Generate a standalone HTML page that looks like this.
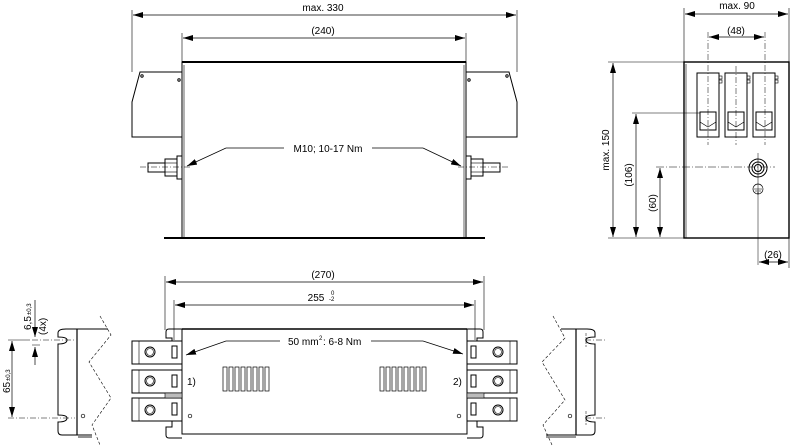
<!DOCTYPE html>
<html><head><meta charset="utf-8"><style>
html,body{margin:0;padding:0;background:#fff}
svg{display:block}
text{font-family:"Liberation Sans",sans-serif;font-size:10px;fill:#000}
</style></head><body>
<svg width="790" height="447" viewBox="0 0 790 447" xmlns="http://www.w3.org/2000/svg">
<defs>
<marker id="a" viewBox="0 0 10 6" refX="10" refY="3" markerWidth="10" markerHeight="6" orient="auto-start-reverse" markerUnits="userSpaceOnUse"><path d="M0,0 L10,3 L0,6z" fill="#000"/></marker>
</defs>
<g stroke="#000" fill="none" stroke-width="1">
<line x1="132" y1="10" x2="132" y2="72" stroke-width="0.6"/>
<line x1="517" y1="10" x2="517" y2="72" stroke-width="0.6"/>
<line x1="133" y1="15" x2="516" y2="15" marker-start="url(#a)" marker-end="url(#a)" stroke-width="0.7"/>
<line x1="182" y1="33" x2="182" y2="62" stroke-width="0.6"/>
<line x1="466" y1="33" x2="466" y2="62" stroke-width="0.6"/>
<line x1="183" y1="38" x2="465" y2="38" marker-start="url(#a)" marker-end="url(#a)" stroke-width="0.7"/>
<rect x="182" y="62" width="284" height="176"/>
<line x1="182" y1="62" x2="466" y2="62" stroke-width="2"/>
<line x1="184" y1="65" x2="184" y2="238" stroke-width="0.6"/>
<line x1="464" y1="65" x2="464" y2="238" stroke-width="0.6"/>
<line x1="164" y1="238" x2="485" y2="238" stroke-width="2"/>
<path d="M182,72 H140 L132,102 V137 H182"/>
<path d="M466,72 H509 L517,102 V137 H466"/>
<circle cx="142" cy="76" r="1.2"/><circle cx="179" cy="80" r="1.2"/>
<circle cx="469" cy="80" r="1.2"/><circle cx="507" cy="76" r="1.2"/>
<rect x="148" y="163" width="17" height="9"/><rect x="165" y="159" width="12" height="17"/><rect x="177" y="156" width="5" height="23"/>
<line x1="165" y1="163" x2="177" y2="163" stroke-width="0.6"/><line x1="165" y1="172" x2="177" y2="172" stroke-width="0.6"/>
<rect x="483" y="163" width="17" height="9"/><rect x="471" y="159" width="12" height="17"/><rect x="466" y="156" width="5" height="23"/>
<line x1="471" y1="163" x2="483" y2="163" stroke-width="0.6"/><line x1="471" y1="172" x2="483" y2="172" stroke-width="0.6"/>
<line x1="140" y1="167" x2="190" y2="167" stroke-width="0.5" stroke-dasharray="6,2,1,2"/>
<line x1="458" y1="167" x2="508" y2="167" stroke-width="0.5" stroke-dasharray="6,2,1,2"/>
<path d="M226,148 H284" stroke-width="0.7"/><path d="M226,148 L187,166" stroke-width="0.7" marker-end="url(#a)"/>
<path d="M372,148 H423" stroke-width="0.7"/><path d="M423,148 L461,166" stroke-width="0.7" marker-end="url(#a)"/>

<line x1="684" y1="8" x2="684" y2="62" stroke-width="0.6"/>
<line x1="789" y1="8" x2="789" y2="62" stroke-width="0.6"/>
<line x1="685" y1="14" x2="788" y2="14" marker-start="url(#a)" marker-end="url(#a)" stroke-width="0.7"/>
<line x1="708" y1="32" x2="708" y2="145" stroke-width="0.5" stroke-dasharray="6,2,1,2"/>
<line x1="736" y1="66" x2="736" y2="145" stroke-width="0.5" stroke-dasharray="6,2,1,2"/>
<line x1="765" y1="32" x2="765" y2="145" stroke-width="0.5" stroke-dasharray="6,2,1,2"/>
<line x1="709" y1="37" x2="764" y2="37" marker-start="url(#a)" marker-end="url(#a)" stroke-width="0.7"/>
<rect x="684" y="62" width="105" height="176" stroke-width="1.4"/>
<line x1="686" y1="64" x2="686" y2="238" stroke-width="0.6"/>
<g>
<rect x="697" y="73" width="22" height="64"/><rect x="700" y="112" width="16" height="18"/><path d="M700,122 L708,127 L716,122" stroke-width="0.7"/>
<rect x="725" y="73" width="22" height="64"/><rect x="728" y="112" width="16" height="18"/><path d="M728,122 L736,127 L744,122" stroke-width="0.7"/>
<rect x="753" y="73" width="22" height="64"/><rect x="756" y="112" width="16" height="18"/><path d="M756,122 L764,127 L772,122" stroke-width="0.7"/>
<rect x="719" y="76" width="3" height="3" stroke-width="0.6"/><rect x="719" y="80" width="3" height="3" stroke-width="0.6"/>
<rect x="747" y="76" width="3" height="3" stroke-width="0.6"/><rect x="747" y="80" width="3" height="3" stroke-width="0.6"/>
<rect x="775" y="76" width="3" height="3" stroke-width="0.6"/><rect x="775" y="80" width="3" height="3" stroke-width="0.6"/>
</g>
<circle cx="758" cy="168" r="9"/><circle cx="758" cy="168" r="6"/><circle cx="758" cy="168" r="3.5"/>
<line x1="656" y1="167" x2="775" y2="167" stroke-width="0.5" stroke-dasharray="8,2,1,2"/>
<line x1="758" y1="153" x2="758" y2="265" stroke-width="0.5"/>
<circle cx="758" cy="189" r="5" stroke-width="0.7"/>
<path d="M754,189 H762 M755,191 H761 M757,193 H759" stroke-width="0.6"/>
<line x1="608" y1="62" x2="684" y2="62" stroke-width="0.6"/>
<line x1="608" y1="238" x2="684" y2="238" stroke-width="0.6"/>
<line x1="613" y1="63" x2="613" y2="237" marker-start="url(#a)" marker-end="url(#a)" stroke-width="0.7"/>
<line x1="632" y1="113" x2="700" y2="113" stroke-width="0.6"/>
<line x1="636" y1="114" x2="636" y2="237" marker-start="url(#a)" marker-end="url(#a)" stroke-width="0.7"/>
<line x1="660" y1="168" x2="660" y2="237" marker-start="url(#a)" marker-end="url(#a)" stroke-width="0.7"/>
<line x1="759" y1="262" x2="788" y2="262" marker-start="url(#a)" marker-end="url(#a)" stroke-width="0.7"/>
<line x1="789" y1="238" x2="789" y2="268" stroke-width="0.6"/>

<line x1="165" y1="276" x2="165" y2="330" stroke-width="0.6"/>
<line x1="484" y1="276" x2="484" y2="330" stroke-width="0.6"/>
<line x1="166" y1="282" x2="483" y2="282" marker-start="url(#a)" marker-end="url(#a)" stroke-width="0.7"/>
<line x1="174" y1="300" x2="174" y2="340" stroke-width="0.6"/>
<line x1="475" y1="300" x2="475" y2="340" stroke-width="0.6"/>
<line x1="175" y1="305" x2="474" y2="305" marker-start="url(#a)" marker-end="url(#a)" stroke-width="0.7"/>
<rect x="182" y="329" width="285" height="105"/>
<line x1="182" y1="329" x2="467" y2="329" stroke-width="1.4"/>
<path d="M182,329 H169 Q166,329 166,332 V338 H172 V341"/>
<path d="M172,421 V427 H166 V435 Q166,438 169,438 H182"/>
<path d="M467,329 H480 Q483,329 483,332 V338 H477 V341"/>
<path d="M477,421 V427 H483 V435 Q483,438 480,438 H467"/>
<g>
<rect x="132" y="341" width="50" height="23"/><line x1="139" y1="341" x2="139" y2="364" stroke-width="0.6"/><circle cx="150" cy="352" r="5"/><circle cx="150" cy="352" r="3.5" stroke-width="0.6"/><rect x="172" y="346" width="5" height="12"/>
<rect x="132" y="370" width="50" height="23"/><line x1="139" y1="370" x2="139" y2="393" stroke-width="0.6"/><circle cx="150" cy="381" r="5"/><circle cx="150" cy="381" r="3.5" stroke-width="0.6"/><rect x="172" y="375" width="5" height="12"/>
<rect x="132" y="398" width="50" height="23"/><line x1="139" y1="398" x2="139" y2="421" stroke-width="0.6"/><circle cx="150" cy="410" r="5"/><circle cx="150" cy="410" r="3.5" stroke-width="0.6"/><rect x="172" y="403" width="5" height="12"/>
<rect x="165" y="393" width="17" height="5" fill="#bbb" stroke-width="0.6"/>
<rect x="467" y="341" width="50" height="23"/><line x1="510" y1="341" x2="510" y2="364" stroke-width="0.6"/><circle cx="498" cy="352" r="5"/><circle cx="498" cy="352" r="3.5" stroke-width="0.6"/><rect x="471" y="346" width="5" height="12"/>
<rect x="467" y="370" width="50" height="23"/><line x1="510" y1="370" x2="510" y2="393" stroke-width="0.6"/><circle cx="498" cy="381" r="5"/><circle cx="498" cy="381" r="3.5" stroke-width="0.6"/><rect x="471" y="375" width="5" height="12"/>
<rect x="467" y="398" width="50" height="23"/><line x1="510" y1="398" x2="510" y2="421" stroke-width="0.6"/><circle cx="498" cy="410" r="5"/><circle cx="498" cy="410" r="3.5" stroke-width="0.6"/><rect x="471" y="403" width="5" height="12"/>
<rect x="467" y="393" width="17" height="5" fill="#bbb" stroke-width="0.6"/>
</g>
<circle cx="190" cy="416" r="1.8" stroke-width="0.7"/>
<circle cx="459" cy="416" r="1.8" stroke-width="0.7"/>
<g stroke-width="0.7">
<rect x="223" y="367" width="4" height="24"/><rect x="229" y="367" width="4" height="24"/><rect x="235" y="367" width="4" height="24"/><rect x="241" y="367" width="4" height="24"/><rect x="247" y="367" width="4" height="24"/><rect x="253" y="367" width="4" height="24"/><rect x="259" y="367" width="4" height="24"/><rect x="265" y="367" width="4" height="24"/>
<rect x="380" y="367" width="4" height="24"/><rect x="386" y="367" width="4" height="24"/><rect x="392" y="367" width="4" height="24"/><rect x="398" y="367" width="4" height="24"/><rect x="404" y="367" width="4" height="24"/><rect x="410" y="367" width="4" height="24"/><rect x="416" y="367" width="4" height="24"/><rect x="422" y="367" width="4" height="24"/>
</g>
<path d="M226,341 H280" stroke-width="0.7"/><path d="M226,341 L186,355" stroke-width="0.7" marker-end="url(#a)"/>
<path d="M371,341 H423" stroke-width="0.7"/><path d="M423,341 L463,354" stroke-width="0.7" marker-end="url(#a)"/>

<path d="M77,329 H66 Q58,329 58,333 V337 Q67,337 67,340 Q67,344 58,344 V415 Q67,415 67,418 Q67,422 58,422 V431 Q58,435 62,435 H77"/>
<line x1="77" y1="329" x2="77" y2="435" stroke-width="1.2"/>
<path d="M77,329 H108 M77,435 H92" />
<line x1="78" y1="437" x2="92" y2="437" stroke-width="1.6" stroke="#777"/>
<path d="M100,316 L111,335 L89,362 L111,398 L92,425 L100,445" stroke-width="0.6" stroke-dasharray="3,2"/>
<circle cx="83" cy="416" r="1.8" stroke-width="0.7"/>
<line x1="32" y1="340" x2="75" y2="340" stroke-width="0.5" stroke-dasharray="6,2,1,2"/>
<line x1="8" y1="418" x2="75" y2="418" stroke-width="0.5" stroke-dasharray="6,2,1,2"/>
<line x1="8" y1="340" x2="30" y2="340" stroke-width="0.5"/>
<line x1="12" y1="341" x2="12" y2="417" marker-start="url(#a)" marker-end="url(#a)" stroke-width="0.7"/>
<line x1="35" y1="300" x2="35" y2="337" marker-end="url(#a)" stroke-width="0.7"/>
<line x1="35" y1="365" x2="35" y2="347" marker-end="url(#a)" stroke-width="0.7"/>
<line x1="32" y1="345" x2="40" y2="345" stroke-width="0.5"/>

<path d="M576,329 H587 Q595,329 595,333 V337 Q586,337 586,340 Q586,344 595,344 V415 Q586,415 586,418 Q586,422 595,422 V431 Q595,435 591,435 H576"/>
<line x1="576" y1="329" x2="576" y2="435" stroke-width="1.2"/>
<path d="M561,329 H576 M546,435 H576"/>
<line x1="546" y1="437" x2="576" y2="437" stroke-width="1.6" stroke="#777"/>
<path d="M553,316 L565,338 L542,362 L565,400 L543,425 L552,445" stroke-width="0.6" stroke-dasharray="3,2"/>
<circle cx="570" cy="416" r="1.8" stroke-width="0.7"/>
<line x1="585" y1="340" x2="605" y2="340" stroke-width="0.5" stroke-dasharray="6,2,1,2"/>
<line x1="585" y1="418" x2="605" y2="418" stroke-width="0.5" stroke-dasharray="6,2,1,2"/>
<line x1="586" y1="333" x2="586" y2="347" stroke-width="0.5" stroke-dasharray="3,1"/>
<line x1="586" y1="411" x2="586" y2="425" stroke-width="0.5" stroke-dasharray="3,1"/>
</g>
<text x="323" y="11" text-anchor="middle">max. 330</text>
<text x="323" y="34" text-anchor="middle">(240)</text>
<text x="328" y="152" text-anchor="middle">M10; 10-17 Nm</text>
<text x="737" y="9" text-anchor="middle">max. 90</text>
<text x="736" y="34" text-anchor="middle">(48)</text>
<text x="773" y="258" text-anchor="middle">(26)</text>
<text transform="translate(609,150) rotate(-90)" text-anchor="middle">max. 150</text>
<text transform="translate(632,175) rotate(-90)" text-anchor="middle">(106)</text>
<text transform="translate(656,203) rotate(-90)" text-anchor="middle">(60)</text>
<text x="323" y="278" text-anchor="middle">(270)</text>
<text x="316" y="301" text-anchor="middle">255</text>
<text x="331" y="295" style="font-size:6px">0</text>
<text x="329" y="301" style="font-size:6px">-2</text>
<text x="288" y="345">50 mm</text><text x="319" y="340" style="font-size:6px">2</text><text x="323" y="345">: 6-8 Nm</text>
<text x="187" y="385">1)</text>
<text x="453" y="385">2)</text>
<text transform="translate(31,330) rotate(-90)">6,5</text>
<text transform="translate(31,315) rotate(-90)" style="font-size:6px">±0,3</text>
<text transform="translate(46,335) rotate(-90)">(4x)</text>
<text transform="translate(10,393) rotate(-90)">65</text>
<text transform="translate(10,381) rotate(-90)" style="font-size:6px">±0,3</text>
</svg>
</body></html>
